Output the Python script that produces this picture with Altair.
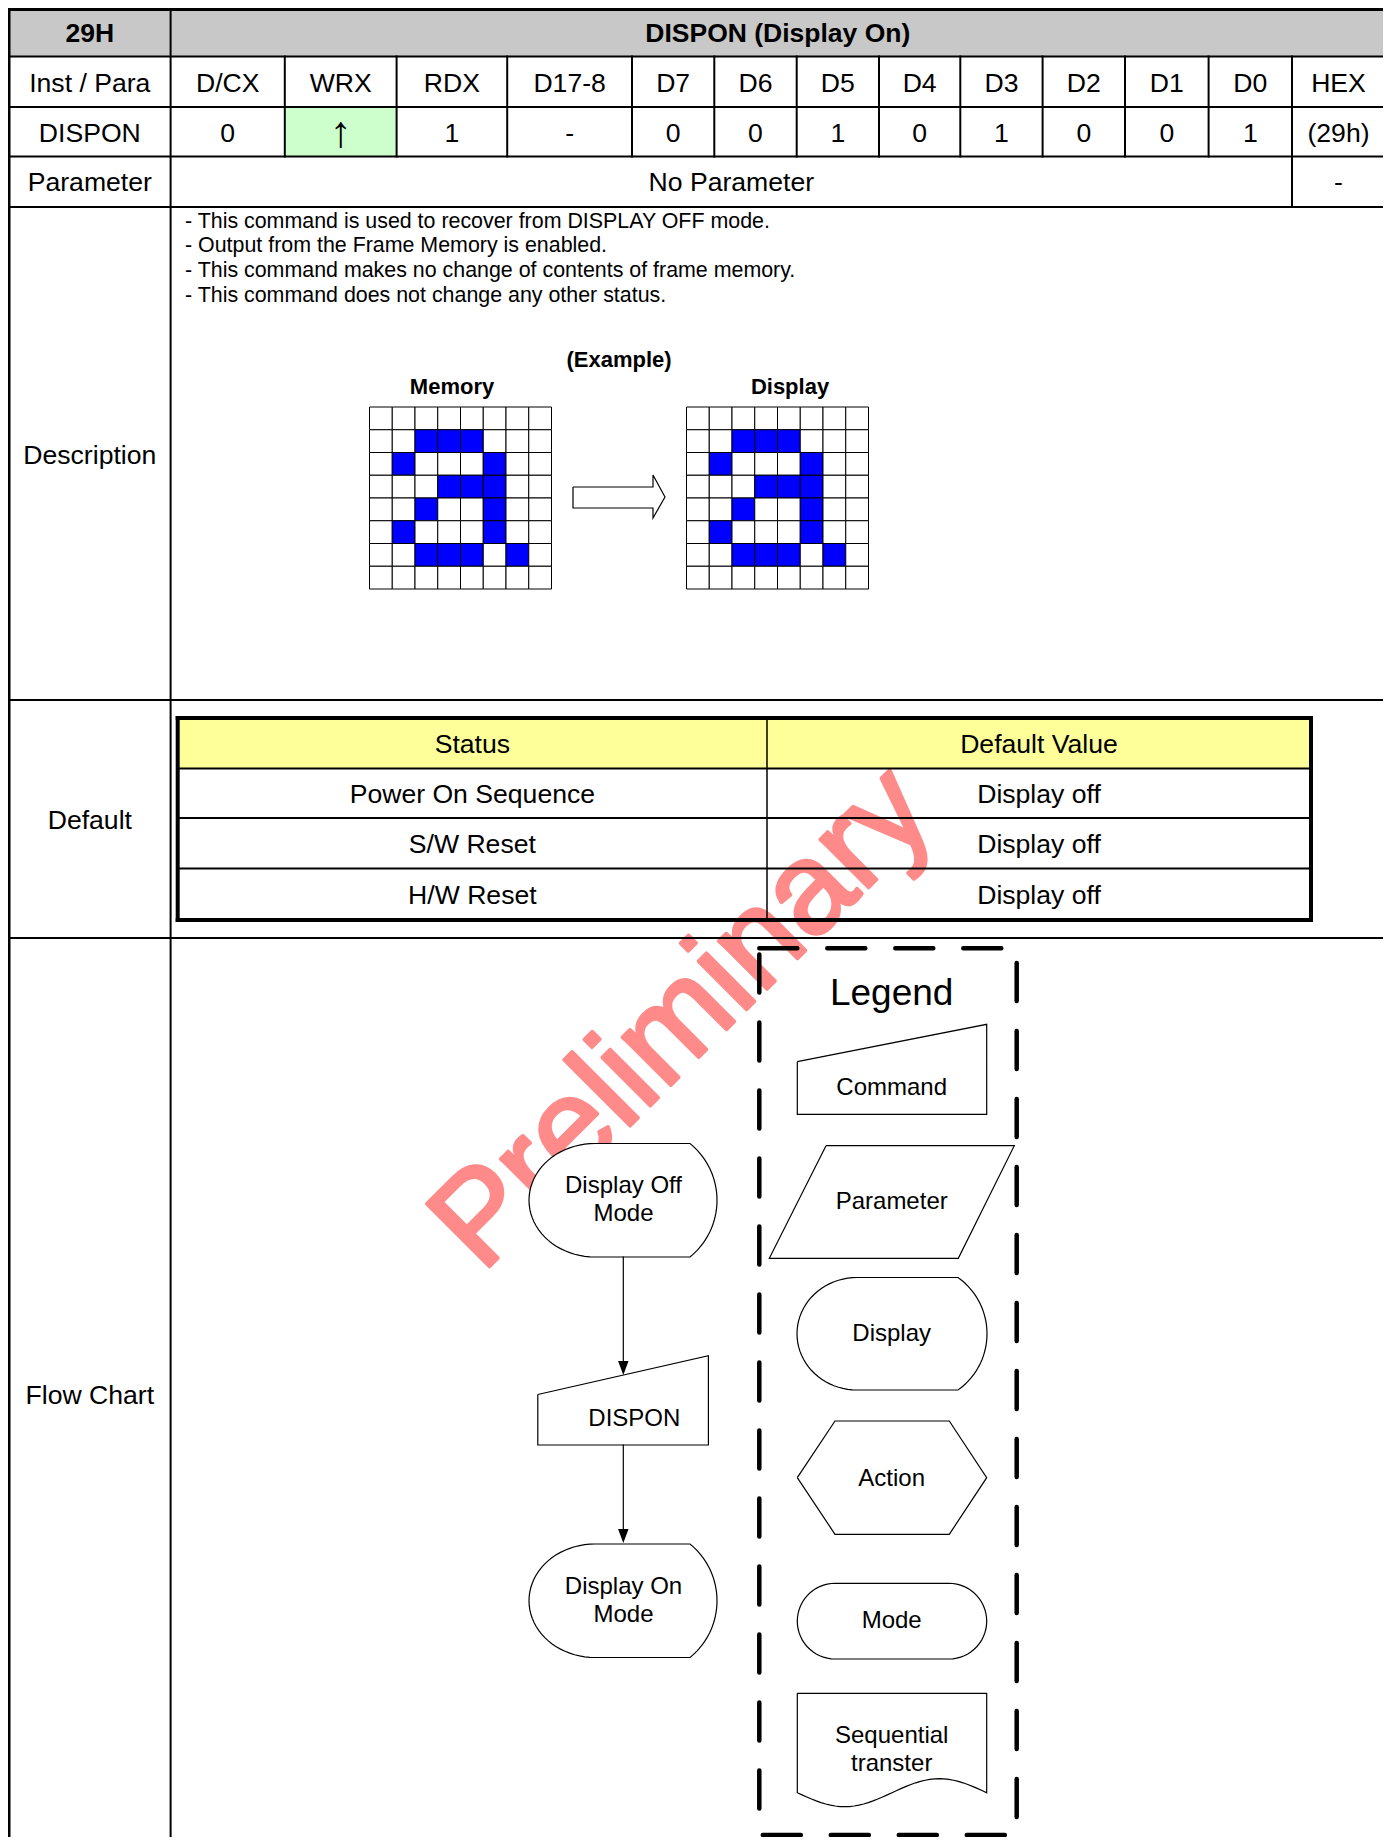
import math
import altair as alt
import pandas as pd

FONT = "Liberation Sans"

# ---------------- data (page pixel coordinates) ----------------
header_code = "29H"
header_title = "DISPON (Display On)"
col_heads = ["Inst / Para", "D/CX", "WRX", "RDX", "D17-8", "D7", "D6", "D5",
             "D4", "D3", "D2", "D1", "D0", "HEX"]
col_vals = ["DISPON", "0", "\u2191", "1", "-", "0", "0", "1", "0", "1", "0", "0", "1", "(29h)"]
col_edges = [9, 170.6, 284.8, 396.6, 507.2, 632, 714.3, 796.7, 879, 960.3,
             1042.6, 1125, 1208.6, 1292, 1385]
row_edges = [9.5, 56.5, 107, 156.5, 207, 700, 938, 1845]
side_labels = ["Parameter", "Description", "Default", "Flow Chart"]
side_label_y = [183, 455.5, 820.5, 1396]
param_texts = ["No Parameter", "-"]
desc_lines = [
    "- This command is used to recover from DISPLAY OFF mode.",
    "- Output from the Frame Memory is enabled.",
    "- This command makes no change of contents of frame memory.",
    "- This command does not change any other status.",
]
desc_y = [221.5, 246.3, 271, 295.7]
example_labels = ["(Example)", "Memory", "Display"]
example_x = [619, 452, 790]
example_y = [360, 387, 387]
bitmap = ["00000000", "00111000", "01000100", "00011100",
          "00100100", "01000100", "00111010", "00000000"]
grid_left = [369.5, 686.5]
grid_top = 407
cell = 22.75
default_heads = ["Status", "Default Value"]
default_status = ["Power On Sequence", "S/W Reset", "H/W Reset"]
default_values = ["Display off", "Display off", "Display off"]
dt_x = [177.7, 767, 1311]
dt_y = [718, 768.5, 818, 868.5, 920]

# flow chart
flow_x = 623.3
display_shapes = {  # left point, flat start, flat end, right max, top, bottom
    "off": (529, 595, 690, 717, 1143.5, 1257),
    "on": (529, 595, 690, 717, 1544, 1657.5),
    "leg": (797, 857, 958, 987, 1277.5, 1390),
}
flow_texts = ["Display Off", "Mode", "DISPON", "Display On", "Mode"]
flow_tx = [623.5, 623.5, 634.3, 623.5, 623.5]
flow_ty = [1186, 1214.3, 1419, 1586.5, 1614.8]
command_main = [(537.8, 1394.5), (708.4, 1355.7), (708.4, 1445), (537.8, 1445)]
arrows = [(1257, 1375), (1445, 1543)]
block_arrow = [(573, 487), (653, 487), (653, 475), (665, 497), (653, 518), (653, 508), (573, 508)]

# legend
legend_box = [(759.3, 948.3), (1016.7, 948.3), (1016.7, 1835), (759.3, 1835)]
legend_title = "Legend"
legend_cmd = [(797.3, 1061.7), (986.7, 1024.3), (986.7, 1114.3), (797.3, 1114.3)]
legend_param = [(826, 1145.7), (1014.3, 1145.7), (958.3, 1258.3), (769.3, 1258.3)]
legend_action = [(797.3, 1477.7), (835, 1421), (949.3, 1421), (986.7, 1477.7),
                 (949.3, 1534.3), (835, 1534.3)]
legend_mode = (797.3, 986.7, 1583.3, 1659)
legend_doc = (797.3, 986.7, 1693.3, 1792.7, 14)
legend_texts = ["Command", "Parameter", "Display", "Action", "Mode", "Sequential", "transter"]
legend_ty = [1088.3, 1202, 1334.3, 1478.7, 1621, 1736, 1763.7]
legend_tx = 891.7

watermark = "Preliminary"
wm_pos = (482, 1274)
wm_size = 129

# ---------------- scales ----------------
X0, X1, Y0, Y1 = 8, 1383, 8, 1837
W, H = X1 - X0, Y1 - Y0
XS = alt.Scale(domain=[X0, X1], nice=False, zero=False)
YS = alt.Scale(domain=[Y0, Y1], nice=False, zero=False, reverse=True)


def ex(f="x"):
    return alt.X(f + ":Q", scale=XS, axis=None)


def ey(f="y"):
    return alt.Y(f + ":Q", scale=YS, axis=None)


def rects(rows):
    df = pd.DataFrame(rows, columns=["x", "x2", "y", "y2", "fill", "stroke", "sw"])
    return alt.Chart(df).mark_rect().encode(
        x=ex(), x2="x2:Q", y=ey(), y2="y2:Q",
        fill=alt.Fill("fill:N", scale=None),
        stroke=alt.Stroke("stroke:N", scale=None),
        strokeWidth=alt.StrokeWidth("sw:Q", scale=None),
    )


def rules(rows, color="black"):
    df = pd.DataFrame(rows, columns=["x", "x2", "y", "y2", "w"])
    return alt.Chart(df).mark_rule(color=color, strokeCap="square").encode(
        x=ex(), x2="x2:Q", y=ey(), y2="y2:Q",
        strokeWidth=alt.StrokeWidth("w:Q", scale=None),
    )


def texts(xs, ys, ts, size, bold=False, align="center", color="black"):
    df = pd.DataFrame({"x": xs, "y": ys, "t": ts})
    return alt.Chart(df).mark_text(
        font=FONT, fontSize=size, fontWeight="bold" if bold else "normal",
        align=align, baseline="middle", color=color,
    ).encode(x=ex(), y=ey(), text="t:N")


def display_outline(p, n=40):
    left, f0, f1, right, top, bottom = p
    cy, ry, rx = (top + bottom) / 2, (bottom - top) / 2, f0 - left
    s = right - f1
    r = (ry * ry + s * s) / (2 * s)
    cxr = right - r
    a = math.asin(ry / r)
    pts = [(f0, top), (f1, top)]
    for i in range(n + 1):
        t = -a + 2 * a * i / n
        pts.append((cxr + r * math.cos(t), cy + r * math.sin(t)))
    pts.append((f0, bottom))
    for i in range(n + 1):
        t = math.pi / 2 + math.pi * i / n
        pts.append((f0 + rx * math.cos(t), cy + ry * math.sin(t)))
    return pts


def display_fill(p, n=40):
    left, f0, f1, right, top, bottom = p
    cy, ry, rx = (top + bottom) / 2, (bottom - top) / 2, f0 - left
    s = right - f1
    r = (ry * ry + s * s) / (2 * s)
    cxr = right - r
    a = math.asin(ry / r)
    pts = []
    for i in range(n + 1):
        t = math.pi + (math.pi / 2) * i / n
        pts.append((f0 + rx * math.cos(t), cy + ry * math.sin(t)))
    for i in range(n + 1):
        t = -a + a * i / n
        pts.append((cxr + r * math.cos(t), cy + r * math.sin(t)))
    return [(x, y, 2 * cy - y) for x, y in pts]


def stadium(p, n=30):
    x0, x1, top, bottom = p
    r = (bottom - top) / 2
    cy = top + r
    pts = [(x0 + r, top), (x1 - r, top)]
    for i in range(n + 1):
        t = -math.pi / 2 + math.pi * i / n
        pts.append((x1 - r + r * math.cos(t), cy + r * math.sin(t)))
    pts.append((x0 + r, bottom))
    for i in range(n + 1):
        t = math.pi / 2 + math.pi * i / n
        pts.append((x0 + r + r * math.cos(t), cy + r * math.sin(t)))
    return pts


def document(p, n=40):
    x0, x1, top, bot, amp = p
    pts = [(x0, top), (x1, top), (x1, bot)]
    for i in range(n + 1):
        t = 1 - i / n
        pts.append((x0 + (x1 - x0) * t, bot + amp * math.sin(2 * math.pi * t)))
    return pts


def outlines(shapes, width=1.2, dash=None, cap="butt"):
    rows = []
    for k, pts in enumerate(shapes):
        pts = list(pts) + [pts[0]]
        for i, (x, y) in enumerate(pts):
            rows.append({"s": k, "i": i, "x": x, "y": y})
    kw = dict(color="black", strokeWidth=width, strokeCap=cap, strokeJoin="miter")
    if dash:
        kw["strokeDash"] = dash
    return alt.Chart(pd.DataFrame(rows)).mark_line(**kw).encode(
        x=ex(), y=ey(), order="i:Q", detail="s:N")


layers = []

# backgrounds
layers.append(rects([
    (col_edges[0], col_edges[-1], row_edges[0], row_edges[1], "#C8C8C8", "#C8C8C8", 0),
    (col_edges[2], col_edges[3], row_edges[2], row_edges[3], "#CCFFCC", "#CCFFCC", 0),
    (dt_x[0], dt_x[2], dt_y[0], dt_y[1], "#FFFF99", "#FFFF99", 0),
]))

# watermark
wm = pd.DataFrame({"x": [wm_pos[0]], "y": [wm_pos[1]], "t": [watermark]})
layers.append(alt.Chart(wm).mark_text(
    font=FONT, fontSize=wm_size, angle=315, align="left", baseline="alphabetic",
    fill="#FF8A8A", stroke="#FF8A8A", strokeWidth=3.5, strokeJoin="round",
).encode(x=ex(), y=ey(), text="t:N"))

# white fills of display shapes
fill_rows = []
for key in ["off", "on", "leg"]:
    for x, y, y2 in display_fill(display_shapes[key]):
        fill_rows.append({"s": key, "x": x, "y": y, "y2": y2})
layers.append(alt.Chart(pd.DataFrame(fill_rows)).mark_area(color="white", opacity=1).encode(
    x=ex(), y=ey(), y2="y2:Q", detail="s:N"))

# bitmap grids
cells = []
for gx in grid_left:
    for r, row in enumerate(bitmap):
        for c, v in enumerate(row):
            cells.append((gx + c * cell, gx + (c + 1) * cell, grid_top + r * cell,
                          grid_top + (r + 1) * cell, "#0000FF" if v == "1" else "white", "black", 1))
layers.append(rects(cells))

# table lines
L = col_edges[0]
R = col_edges[-1]
line_rows = []
for y in row_edges[1:-1]:
    line_rows.append((L, R, y, y, 2))
line_rows.append((col_edges[1], col_edges[1], row_edges[0], row_edges[-1], 2))
for x in col_edges[2:-1]:
    line_rows.append((x, x, row_edges[1], row_edges[3], 2))
line_rows.append((col_edges[-2], col_edges[-2], row_edges[3], row_edges[4], 2))
# default table
for y in dt_y[1:-1]:
    line_rows.append((dt_x[0], dt_x[2], y, y, 2))
line_rows.append((dt_x[1], dt_x[1], dt_y[0], dt_y[-1], 1.5))
layers.append(rules(line_rows))
# thick borders
thick = [
    (L, R, row_edges[0], row_edges[0], 3),
    (L, L, row_edges[0], row_edges[-1], 3),
    (R, R, row_edges[0], row_edges[-1], 3),
    (dt_x[0], dt_x[2], dt_y[0], dt_y[0], 4),
    (dt_x[0], dt_x[2], dt_y[-1], dt_y[-1], 4),
    (dt_x[0], dt_x[0], dt_y[0], dt_y[-1], 4),
    (dt_x[2], dt_x[2], dt_y[0], dt_y[-1], 4),
]
layers.append(rules(thick))

# flow arrows
arrow_rows = [(flow_x, flow_x, a, b - 12, 1.2) for a, b in arrows]
layers.append(rules(arrow_rows))
heads = pd.DataFrame({"x": [flow_x] * len(arrows), "y": [b - 7 for _, b in arrows]})
layers.append(alt.Chart(heads).mark_point(
    shape="M0,1 L-0.75,-1 L0.75,-1 Z", filled=True, size=196, color="black", opacity=1,
).encode(x=ex(), y=ey()))

# shapes outlines
shape_list = [
    display_outline(display_shapes["off"]),
    display_outline(display_shapes["on"]),
    display_outline(display_shapes["leg"]),
    command_main, legend_cmd, legend_param, legend_action,
    stadium(legend_mode), document(legend_doc), block_arrow,
]
layers.append(outlines(shape_list, width=1.2))

# legend dashed box
layers.append(outlines([legend_box], width=4.5, dash=[38, 30], cap="round"))

# texts
mid = lambda a, b: (a + b) / 2
cx = [mid(col_edges[i], col_edges[i + 1]) for i in range(len(col_edges) - 1)]
layers.append(texts([mid(col_edges[0], col_edges[1]), mid(col_edges[1], col_edges[-1])],
                    [34, 34], [header_code, header_title], 26.5, bold=True))
layers.append(texts(cx, [83.5] * len(cx), col_heads, 26.6))
normal_idx = [i for i, v in enumerate(col_vals) if v != "\u2191"]
arrow_idx = [i for i, v in enumerate(col_vals) if v == "\u2191"]
layers.append(texts([cx[i] for i in normal_idx], [133.5] * len(normal_idx),
                    [col_vals[i] for i in normal_idx], 26.6))
layers.append(texts([cx[i] for i in arrow_idx], [134] * len(arrow_idx),
                    [col_vals[i] for i in arrow_idx], 44))
layers.append(texts([cx[0]] * 4, side_label_y, side_labels, 26.6))
layers.append(texts([mid(col_edges[1], col_edges[-2]), mid(col_edges[-2], col_edges[-1])],
                    [183, 183], param_texts, 26.6))
layers.append(texts([185] * 4, desc_y, desc_lines, 21.4, align="left"))
layers.append(texts(example_x, example_y, example_labels, 22, bold=True))
dh_x = [mid(dt_x[0], dt_x[1]), mid(dt_x[1], dt_x[2])]
dy = [mid(dt_y[i], dt_y[i + 1]) + 1.5 for i in range(4)]
layers.append(texts([dh_x[0]] * 4, dy, [default_heads[0]] + default_status, 26.6))
layers.append(texts([dh_x[1]] * 4, dy, [default_heads[1]] + default_values, 26.6))
layers.append(texts(flow_tx, flow_ty, flow_texts, 24))
layers.append(texts([legend_tx], [994.3], [legend_title], 37))
layers.append(texts([legend_tx] * len(legend_texts), legend_ty, legend_texts, 24))

chart = alt.layer(*layers).properties(
    width=W, height=H, padding=0, autosize="none", background="white",
).configure_view(stroke=None)

chart.save("out.html", embed_options={"renderer": "svg", "actions": False})
